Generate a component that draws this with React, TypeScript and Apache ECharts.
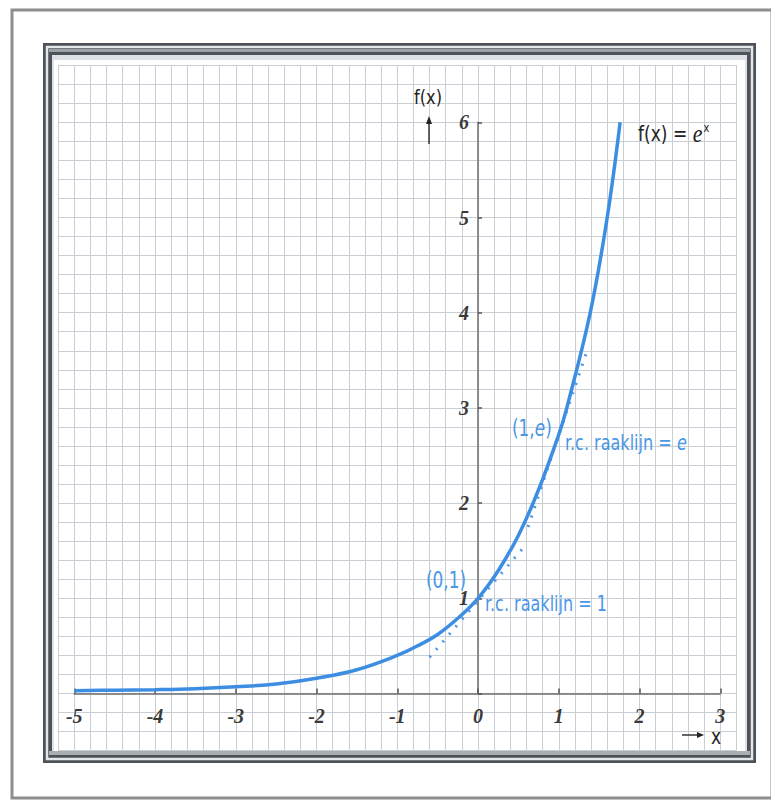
import React, { useEffect, useRef } from "react";
import * as echarts from "echarts";

// Data
const curveX = [-5, -4.5, -4, -3.5, -3, -2.5, -2, -1.5, -1, -0.75, -0.5, -0.25, 0, 0.25, 0.5, 0.75, 1, 1.1, 1.39, 1.6, 1.76];
const curveY = [0.03, 0.035, 0.04, 0.05, 0.07, 0.1, 0.16, 0.25, 0.4, 0.5, 0.62, 0.79, 1.0, 1.29, 1.66, 2.14, 2.72, 3.0, 4.0, 5.0, 6.0];
const tangentAtZeroX = [-0.6, 0.55];
const tangentAtZeroY = [0.38, 1.52];
const tangentAtOneX = [0.62, 1.35];
const tangentAtOneY = [1.75, 3.6];

const xRange = [-5, 3];
const yRange = [0, 6];
const paperXRange = [-5.2, 3.2];
const paperYRange = [-0.6, 6.6];
const gridStep = 0.2;

const pairs = (xs: number[], ys: number[]) => xs.map((x, i) => [x, ys[i]]);

// layout
const X0 = 478;
const Y0 = 693.5;
const UX = 80.75;
const UY = 95.2;

const BLUE = "#3d8ee2";
const LABEL_BLUE = "#4a97e6";
const NARROW = '"Liberation Sans Narrow", "DejaVu Sans Condensed", "Open Sans", sans-serif';
const SERIF = '"Liberation Serif", "DejaVu Serif", serif';
const DARK = "#4c5258";

export default function App() {
  const ref = useRef<HTMLDivElement>(null);
  useEffect(() => {
    if (!ref.current) return;
    const chart = echarts.init(ref.current, null, { renderer: "svg" });
    const gx = (v: number) => X0 + v * UX;
    const gy = (v: number) => Y0 - v * UY;
    const blueText = (x: number, y: number, text: string, size: number) => ({
      type: "text",
      z: 50,
      x,
      y,
      scaleX: 0.94,
      scaleY: 1.12,
      style: {
        text,
        fontFamily: NARROW,
        fontSize: size,
        fill: LABEL_BLUE,
        verticalAlign: "middle",
        rich: {
          e: { fontFamily: NARROW, fontStyle: "italic", fontSize: size, fill: LABEL_BLUE },
        },
      },
    });
    const tickLabel = {
      show: true,
      fontFamily: SERIF,
      fontStyle: "italic",
      fontWeight: "bold",
      fontSize: 20,
      color: "#3a3a3a",
    };
    const option: any = {
      animation: false,
      grid: [
        {
          left: gx(paperXRange[0]),
          width: (paperXRange[1] - paperXRange[0]) * UX,
          top: gy(paperYRange[1]),
          height: (paperYRange[1] - paperYRange[0]) * UY,
          containLabel: false,
        },
        {
          left: gx(xRange[0]),
          width: (xRange[1] - xRange[0]) * UX,
          top: gy(yRange[1]),
          height: (yRange[1] - yRange[0]) * UY,
          containLabel: false,
        },
      ],
      xAxis: [
        {
          type: "value",
          gridIndex: 0,
          min: paperXRange[0],
          max: paperXRange[1],
          interval: gridStep,
          axisLine: { show: false },
          axisTick: { show: false },
          axisLabel: { show: false },
          splitLine: { show: true, lineStyle: { color: "#c9ced4", width: 1 } },
          z: 1,
        },
        {
          type: "value",
          gridIndex: 1,
          min: xRange[0],
          max: xRange[1],
          interval: 1,
          axisLine: { show: true, onZero: false, lineStyle: { color: "#6e6e6e", width: 1.5 } },
          axisTick: { show: true, inside: true, length: 5, lineStyle: { color: "#555", width: 1.5 } },
          axisLabel: { ...tickLabel, margin: 12 },
          splitLine: { show: false },
          z: 3,
        },
      ],
      yAxis: [
        {
          type: "value",
          gridIndex: 0,
          min: paperYRange[0],
          max: paperYRange[1],
          interval: gridStep,
          axisLine: { show: false },
          axisTick: { show: false },
          axisLabel: { show: false },
          splitLine: { show: true, lineStyle: { color: "#c9ced4", width: 1 } },
          z: 1,
        },
        {
          type: "value",
          gridIndex: 1,
          position: "left",
          offset: -(X0 - gx(xRange[0])),
          min: yRange[0],
          max: yRange[1],
          interval: 1,
          axisLine: { show: true, onZero: false, lineStyle: { color: "#6e6e6e", width: 1.5 } },
          axisTick: { show: true, inside: true, length: 4, lineStyle: { color: "#555", width: 1.5 } },
          axisLabel: {
            ...tickLabel,
            margin: 9,
            formatter: (v: number) => (v === 0 ? "" : String(v)),
          },
          splitLine: { show: false },
          z: 3,
        },
      ],
      series: [
        {
          type: "line",
          xAxisIndex: 1,
          yAxisIndex: 1,
          data: pairs(curveX, curveY),
          smooth: 0.4,
          showSymbol: false,
          clip: false,
          lineStyle: { color: BLUE, width: 3.5 },
          z: 5,
        },
        {
          type: "line",
          xAxisIndex: 1,
          yAxisIndex: 1,
          data: pairs(tangentAtZeroX, tangentAtZeroY),
          showSymbol: false,
          lineStyle: { color: BLUE, width: 3, type: [2, 8], cap: "butt", opacity: 0.9 },
          z: 4,
        },
        {
          type: "line",
          xAxisIndex: 1,
          yAxisIndex: 1,
          data: pairs(tangentAtOneX, tangentAtOneY),
          showSymbol: false,
          lineStyle: { color: BLUE, width: 3, type: [2, 8], cap: "butt", opacity: 0.9 },
          z: 4,
        },
      ],
      graphic: [
        // page border
        {
          type: "rect",
          z: -20,
          shape: { x: 12, y: 10, width: 760, height: 788 },
          style: { fill: "#ffffff", stroke: "#8e8e8e", lineWidth: 3 },
        },
        // metal frame
        {
          type: "rect",
          z: -19,
          shape: { x: 43, y: 43, width: 713, height: 720 },
          style: { fill: DARK },
        },
        {
          type: "rect",
          z: -18,
          shape: { x: 47, y: 47, width: 705, height: 712 },
          style: { fill: "none", stroke: "#e4e7ea", lineWidth: 2.5 },
        },
        {
          type: "rect",
          z: -18,
          shape: { x: 49, y: 49, width: 701, height: 4 },
          style: { fill: "#9ba1a7" },
        },
        {
          type: "rect",
          z: -17,
          shape: { x: 50.5, y: 53.5, width: 698, height: 701 },
          style: { fill: "#dde1e5", stroke: DARK, lineWidth: 3 },
        },
        {
          type: "rect",
          z: -16,
          shape: { x: 54, y: 60, width: 691, height: 691 },
          style: { fill: "#ffffff" },
        },
        {
          type: "rect",
          z: -15,
          shape: { x: 49, y: 751, width: 701, height: 4 },
          style: { fill: "#a9aeb3" },
        },
        // f(x) axis name and arrow
        {
          type: "text",
          z: 50,
          x: 428,
          y: 97,
          scaleY: 1.1,
          style: {
            text: "f(x)",
            fontFamily: NARROW,
            fontSize: 18,
            fill: "#222",
            align: "center",
            verticalAlign: "middle",
          },
        },
        {
          type: "line",
          z: 50,
          shape: { x1: 429, y1: 144, x2: 429, y2: 121 },
          style: { stroke: "#333", lineWidth: 1.5 },
        },
        {
          type: "polygon",
          z: 50,
          shape: { points: [[429, 116], [426, 124], [432, 124]] },
          style: { fill: "#222" },
        },
        // x axis name and arrow
        {
          type: "line",
          z: 50,
          shape: { x1: 682, y1: 735, x2: 698, y2: 735 },
          style: { stroke: "#333", lineWidth: 1.5 },
        },
        {
          type: "polygon",
          z: 50,
          shape: { points: [[704, 735], [697, 732], [697, 738]] },
          style: { fill: "#222" },
        },
        {
          type: "text",
          z: 50,
          x: 716,
          y: 737,
          scaleY: 1.1,
          style: {
            text: "x",
            fontFamily: NARROW,
            fontSize: 19,
            fill: "#222",
            align: "center",
            verticalAlign: "middle",
          },
        },
        // function name
        {
          type: "text",
          z: 50,
          x: 638,
          y: 134,
          scaleY: 1.1,
          style: {
            text: "f(x) = {e|e}{s|x}",
            fontFamily: NARROW,
            fontSize: 19,
            fill: "#222",
            verticalAlign: "middle",
            rich: {
              e: { fontFamily: SERIF, fontStyle: "italic", fontSize: 22, fill: "#222" },
              s: { fontFamily: NARROW, fontSize: 11, fill: "#222", padding: [0, 0, 12, 1] },
            },
          },
        },
        // annotations
        blueText(426, 580, "(0,1)", 20),
        blueText(485, 604, "r.c. raaklijn = 1", 19),
        blueText(512, 428, "(1,{e|e})", 20),
        blueText(565, 443, "r.c. raaklijn = {e|e}", 19),
      ],
    };
    chart.setOption(option);
    return () => chart.dispose();
  }, []);
  return (
    <div
      ref={ref}
      style={{ position: "fixed", left: 0, top: 0, width: 771, height: 802, background: "#fff" }}
    />
  );
}
